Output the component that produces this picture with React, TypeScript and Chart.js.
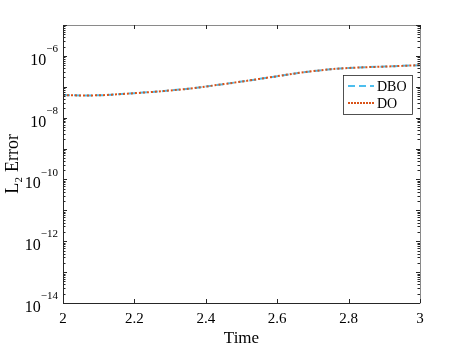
import React, { useEffect, useRef } from "react";
import { Chart, registerables } from "chart.js";

Chart.register(...registerables);

const times = [2.0, 2.05, 2.1, 2.15, 2.2, 2.25, 2.3, 2.35, 2.4, 2.45, 2.5, 2.55, 2.6, 2.65, 2.7, 2.75, 2.8, 2.85, 2.9, 2.95, 3.0];
const dboError = [5.4e-8, 5.25e-8, 5.3e-8, 5.7e-8, 6.2e-8, 6.8e-8, 7.6e-8, 8.6e-8, 1.02e-7, 1.22e-7, 1.47e-7, 1.8e-7, 2.2e-7, 2.7e-7, 3.2e-7, 3.7e-7, 4.05e-7, 4.3e-7, 4.5e-7, 4.75e-7, 5.0e-7];
const doError = [5.4e-8, 5.25e-8, 5.3e-8, 5.7e-8, 6.2e-8, 6.8e-8, 7.6e-8, 8.6e-8, 1.02e-7, 1.22e-7, 1.47e-7, 1.8e-7, 2.2e-7, 2.7e-7, 3.2e-7, 3.7e-7, 4.05e-7, 4.3e-7, 4.5e-7, 4.75e-7, 5.0e-7];
const yTickExponents = [-14, -12, -10, -8, -6];
const xTicks = [2, 2.2, 2.4, 2.6, 2.8, 3];
const seriesNames = ["DBO", "DO"];

const FONT = "'Liberation Serif', 'Times New Roman', serif";
const BLUE = "#4DBEEE";
const ORANGE = "#D95319";

const boxPlugin = {
  id: "boxTicks",
  afterDatasetsDraw(chart: any) {
    const { ctx, chartArea: a, scales } = chart;
    const xs = scales.x;
    const ys = scales.y;
    ctx.save();
    ctx.lineWidth = 1;
    ctx.strokeStyle = "#262626";
    ctx.beginPath();
    ctx.moveTo(a.left + 0.5, a.top);
    ctx.lineTo(a.left + 0.5, a.bottom + 0.5);
    ctx.lineTo(a.right, a.bottom + 0.5);
    ctx.stroke();
    ctx.strokeStyle = "#8a8a8a";
    ctx.beginPath();
    ctx.moveTo(a.left, a.top + 0.5);
    ctx.lineTo(a.right + 0.5, a.top + 0.5);
    ctx.lineTo(a.right + 0.5, a.bottom + 0.5);
    ctx.stroke();
    ctx.strokeStyle = "#262626";
    ctx.beginPath();
    xTicks.forEach((v) => {
      const px = Math.round(xs.getPixelForValue(v)) + 0.5;
      ctx.moveTo(px, a.bottom);
      ctx.lineTo(px, a.bottom - 4);
      ctx.moveTo(px, a.top);
      ctx.lineTo(px, a.top + 4);
    });
    ctx.stroke();
    ctx.beginPath();
    for (let e = -14; e <= -5; e++) {
      for (let m = 1; m <= 9; m++) {
        const v = m * Math.pow(10, e);
        if (v > 1.0001e-5) continue;
        const py = Math.round(ys.getPixelForValue(v)) + 0.5;
        const len = m === 1 ? 4 : 2.5;
        ctx.moveTo(a.left, py);
        ctx.lineTo(a.left + len, py);
        ctx.moveTo(a.right, py);
        ctx.lineTo(a.right - len, py);
      }
    }
    ctx.stroke();
    ctx.restore();
  },
  afterDraw(chart: any) {
    const { ctx, chartArea: a, scales } = chart;
    const ys = scales.y;
    ctx.save();
    ctx.fillStyle = "#000";
    ctx.textAlign = "left";
    ctx.textBaseline = "alphabetic";
    ys.ticks.forEach((t: any) => {
      const py = ys.getPixelForValue(t.value);
      const exp = "\u2212" + String(Math.abs(Math.round(Math.log10(t.value))));
      ctx.font = `11px ${FONT}`;
      const ew = ctx.measureText(exp).width;
      ctx.font = `16px ${FONT}`;
      const bw = ctx.measureText("10").width;
      const right = a.left - 5;
      const x0 = right - ew - bw;
      ctx.fillText("10", x0, py + 9);
      ctx.font = `11px ${FONT}`;
      ctx.fillText(exp, x0 + bw, py - 3.8);
    });
    const bx = a.right - 77;
    const by = a.top + 50;
    const bw = 69;
    const bh = 39;
    ctx.fillStyle = "#ffffff";
    ctx.fillRect(bx, by, bw, bh);
    ctx.strokeStyle = "#262626";
    ctx.lineWidth = 0.8;
    ctx.strokeRect(bx + 0.5, by + 0.5, bw, bh);
    const rows = [
      { name: seriesNames[0], color: BLUE, dash: [7, 4] },
      { name: seriesNames[1], color: ORANGE, dash: [2, 1] },
    ];
    rows.forEach((r, i) => {
      const y = by + 11 + i * 17;
      ctx.strokeStyle = r.color;
      ctx.lineWidth = 2;
      ctx.setLineDash(r.dash);
      ctx.beginPath();
      ctx.moveTo(bx + 5, y);
      ctx.lineTo(bx + 31, y);
      ctx.stroke();
      ctx.setLineDash([]);
      ctx.fillStyle = "#000000";
      ctx.font = `14px ${FONT}`;
      ctx.textBaseline = "middle";
      ctx.textAlign = "left";
      ctx.fillText(r.name, bx + 34, y + 1);
    });
    ctx.restore();
  },
};

export default function App() {
  const ref = useRef<HTMLCanvasElement | null>(null);
  useEffect(() => {
    document.body.style.margin = "0";
    const canvas = ref.current;
    if (!canvas) return;
    const chart = new Chart(canvas, {
      type: "line",
      data: {
        datasets: [
          {
            label: seriesNames[0],
            data: times.map((t, i) => ({ x: t, y: dboError[i] })),
            borderColor: BLUE,
            borderWidth: 2,
            borderDash: [7, 4],
            pointRadius: 0,
            cubicInterpolationMode: "monotone",
            fill: false,
            order: 1,
          },
          {
            label: seriesNames[1],
            data: times.map((t, i) => ({ x: t, y: doError[i] })),
            borderColor: ORANGE,
            borderWidth: 2,
            borderDash: [2, 2],
            pointRadius: 0,
            cubicInterpolationMode: "monotone",
            fill: false,
            order: 0,
          },
        ],
      },
      options: {
        responsive: false,
        animation: false,
        events: [],
        layout: { padding: { left: 0, right: 45, top: 25, bottom: 0 } },
        plugins: { legend: { display: false }, tooltip: { enabled: false } },
        scales: {
          x: {
            type: "linear",
            min: 2,
            max: 3,
            grid: { display: false, drawTicks: false },
            border: { display: false },
            afterBuildTicks: (s: any) => {
              s.ticks = xTicks.map((v) => ({ value: v }));
            },
            afterFit: (s: any) => {
              s.height = 46;
            },
            ticks: {
              color: "#000",
              font: { family: FONT, size: 15 },
              padding: 7,
              maxRotation: 0,
              callback: (v: any) => String(Number(Number(v).toFixed(1))),
            },
            title: {
              display: true,
              text: "Time",
              color: "#000",
              font: { family: FONT, size: 17 },
              padding: { top: 0, bottom: 0 },
            },
          },
          y: {
            type: "logarithmic",
            min: 1e-14,
            max: 1e-5,
            grid: { display: false, drawTicks: false },
            border: { display: false },
            afterBuildTicks: (s: any) => {
              s.ticks = yTickExponents.map((e) => ({ value: Math.pow(10, e) }));
            },
            afterFit: (s: any) => {
              s.width = 63;
            },
            ticks: {
              display: false,
            },
            title: {
              display: true,
              text: "L\u2082 Error",
              color: "#000",
              font: { family: FONT, size: 18 },
              padding: { top: 2, bottom: 0 },
            },
          },
        },
      },
      plugins: [boxPlugin],
    } as any);
    return () => chart.destroy();
  }, []);
  return (
    <div style={{ width: 465, height: 349 }}>
      <canvas ref={ref} width={465} height={349} style={{ display: "block" }} />
    </div>
  );
}
